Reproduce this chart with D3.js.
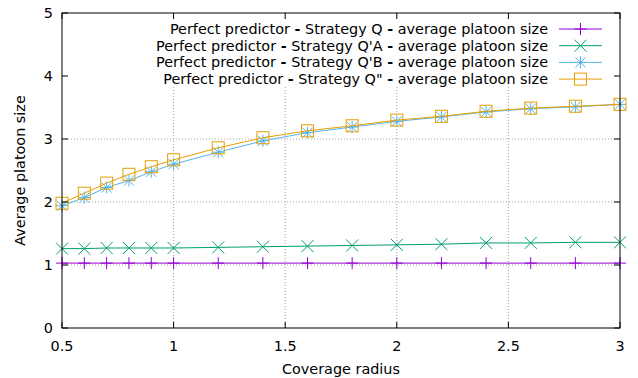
<!DOCTYPE html>
<html>
<head>
<meta charset="utf-8">
<script src="https://d3js.org/d3.v7.min.js"></script>
<style>
  body { margin: 0; background: #fff; }
  svg { font-family: "DejaVu Sans", sans-serif; }
</style>
</head>
<body>
<svg id="chart" width="638" height="378"></svg>
<script>
// coverage radius values
const radius = [0.5, 0.6, 0.7, 0.8, 0.9, 1.0, 1.2, 1.4, 1.6, 1.8, 2.0, 2.2, 2.4, 2.6, 2.8, 3.0];

// average platoon size per strategy
const strategyQ   = [1.03, 1.03, 1.03, 1.03, 1.03, 1.03, 1.03, 1.03, 1.03, 1.03, 1.03, 1.03, 1.03, 1.03, 1.03, 1.03];
const strategyQA  = [1.26, 1.26, 1.27, 1.27, 1.27, 1.27, 1.28, 1.29, 1.30, 1.31, 1.32, 1.33, 1.35, 1.35, 1.36, 1.36];
const strategyQB  = [1.94, 2.07, 2.23, 2.34, 2.48, 2.60, 2.79, 2.97, 3.10, 3.19, 3.28, 3.35, 3.43, 3.48, 3.51, 3.55];
const strategyQ2  = [1.98, 2.14, 2.30, 2.44, 2.56, 2.67, 2.86, 3.02, 3.13, 3.21, 3.30, 3.36, 3.44, 3.49, 3.52, 3.55];

const xTicks = [0.5, 1, 1.5, 2, 2.5, 3];
const yTicks = [0, 1, 2, 3, 4, 5];

const seriesNames = [
  ["Strategy Q", strategyQ, "#9400d3", "plus"],
  ["Strategy Q'A", strategyQA, "#009e73", "cross"],
  ["Strategy Q'B", strategyQB, "#56b4e9", "star"],
  ["Strategy Q\"", strategyQ2, "#e69f00", "square"]
];

const fs = 14.4;
const svg = d3.select("#chart");
const margin = { top: 13, right: 18, bottom: 50, left: 62 };
const W = 638, H = 378;

const x = d3.scaleLinear().domain([0.5, 3]).range([margin.left, W - margin.right]);
const y = d3.scaleLinear().domain([0, 5]).range([H - margin.bottom, margin.top]);

// grid (dotted)
const grid = svg.append("g").attr("stroke", "#a0a0a0").attr("stroke-width", 1).attr("stroke-dasharray", "1,2");
xTicks.filter(d => d > 0.5 && d < 3).forEach(d => {
  grid.append("line").attr("x1", x(d)).attr("x2", x(d)).attr("y1", y(0)).attr("y2", y(5));
});
yTicks.filter(d => d > 0 && d < 5).forEach(d => {
  grid.append("line").attr("x1", x(0.5)).attr("x2", x(3)).attr("y1", y(d)).attr("y2", y(d));
});

// opaque key box clears the grid behind it
svg.append("rect").attr("x", x(0.5) + 1).attr("y", y(5) + 1)
  .attr("width", x(3) - x(0.5) - 2).attr("height", 73).attr("fill", "#fff");

function drawMarker(g, type, cx, cy, color) {
  const s = 6;
  const m = g.append("g").attr("stroke", color).attr("stroke-width", 1).attr("fill", "none");
  if (type === "plus" || type === "star") {
    m.append("line").attr("x1", cx - s).attr("x2", cx + s).attr("y1", cy).attr("y2", cy);
    m.append("line").attr("x1", cx).attr("x2", cx).attr("y1", cy - s).attr("y2", cy + s);
  }
  if (type === "cross" || type === "star") {
    const c = type === "star" ? s * 0.85 : s;
    m.append("line").attr("x1", cx - c).attr("x2", cx + c).attr("y1", cy - c).attr("y2", cy + c);
    m.append("line").attr("x1", cx - c).attr("x2", cx + c).attr("y1", cy + c).attr("y2", cy - c);
  }
  if (type === "square") {
    m.append("rect").attr("x", cx - s).attr("y", cy - s).attr("width", 2 * s).attr("height", 2 * s);
  }
}

const line = d3.line().x((d, i) => x(radius[i])).y(d => y(d));

// series
seriesNames.forEach(([name, vals, color, type]) => {
  const g = svg.append("g");
  g.append("path").datum(vals).attr("fill", "none").attr("stroke", color)
    .attr("stroke-width", 1).attr("d", line);
  vals.forEach((v, i) => drawMarker(g, type, x(radius[i]), y(v), color));
});

// key
const key = svg.append("g").attr("font-size", fs);
seriesNames.forEach(([name, vals, color, type], i) => {
  const ky = 29 + i * 16.7;
  const t = key.append("text").attr("x", 548).attr("y", ky).attr("dy", "0.35em")
    .attr("text-anchor", "end").attr("fill", "#000");
  t.append("tspan").text("Perfect predictor ");
  t.append("tspan").attr("font-weight", "bold").text("-");
  t.append("tspan").text(" " + name + " ");
  t.append("tspan").attr("font-weight", "bold").text("-");
  t.append("tspan").text(" average platoon size");
  key.append("line").attr("x1", 559).attr("x2", 602).attr("y1", ky).attr("y2", ky)
    .attr("stroke", color).attr("stroke-width", 1);
  drawMarker(key, type, 580.5, ky, color);
});

// border
svg.append("rect").attr("x", x(0.5)).attr("y", y(5)).attr("width", x(3) - x(0.5))
  .attr("height", y(0) - y(5)).attr("fill", "none").attr("stroke", "#000").attr("stroke-width", 1);

// ticks (inside, mirrored)
const tl = 6;
const ticks = svg.append("g").attr("stroke", "#000").attr("stroke-width", 1);
xTicks.forEach(d => {
  ticks.append("line").attr("x1", x(d)).attr("x2", x(d)).attr("y1", y(0)).attr("y2", y(0) - tl);
  ticks.append("line").attr("x1", x(d)).attr("x2", x(d)).attr("y1", y(5)).attr("y2", y(5) + tl);
});
yTicks.forEach(d => {
  ticks.append("line").attr("x1", x(0.5)).attr("x2", x(0.5) + tl).attr("y1", y(d)).attr("y2", y(d));
  ticks.append("line").attr("x1", x(3)).attr("x2", x(3) - tl).attr("y1", y(d)).attr("y2", y(d));
});

// tick labels
const labels = svg.append("g").attr("font-size", fs).attr("fill", "#000");
xTicks.forEach(d => {
  labels.append("text").attr("x", x(d)).attr("y", y(0) + 18).attr("dy", "0.35em")
    .attr("text-anchor", "middle").text(d3.format("~g")(d));
});
yTicks.forEach(d => {
  labels.append("text").attr("x", x(0.5) - 9).attr("y", y(d)).attr("dy", "0.35em")
    .attr("text-anchor", "end").text(d);
});

// axis titles
svg.append("text").attr("x", (x(0.5) + x(3)) / 2).attr("y", 369).attr("dy", "0.35em")
  .attr("text-anchor", "middle").attr("font-size", fs).text("Coverage radius");
svg.append("text").attr("transform", `translate(20,${(y(0) + y(5)) / 2}) rotate(-90)`)
  .attr("dy", "0.35em").attr("text-anchor", "middle").attr("font-size", fs)
  .text("Average platoon size");
</script>
</body>
</html>
